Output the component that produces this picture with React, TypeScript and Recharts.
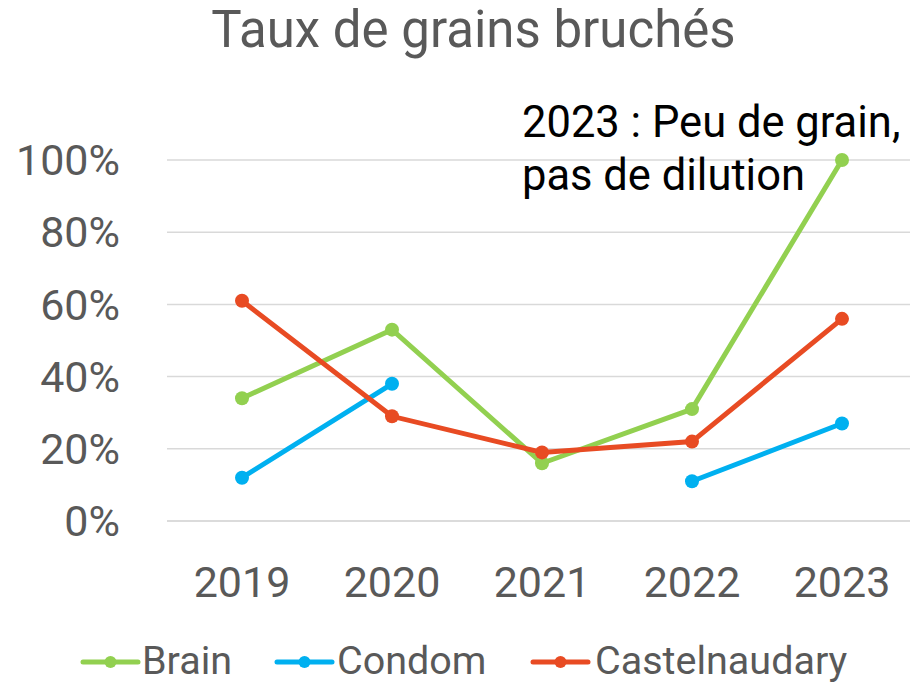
import React from 'react';
import { LineChart, Line, XAxis, YAxis, CartesianGrid, Customized } from 'recharts';

const years = ['2019', '2020', '2021', '2022', '2023'];
const brain = [0.34, 0.53, 0.16, 0.31, 1.0];
const condom: (number | null)[] = [0.12, 0.38, null, 0.11, 0.27];
const castelnaudary = [0.61, 0.29, 0.19, 0.22, 0.56];
const yTicks = [0, 0.2, 0.4, 0.6, 0.8, 1.0];

const title = 'Taux de grains bruchés';
const noteLines = ['2023 : Peu de grain,', 'pas de dilution'];

const seriesInfo = [
  { key: 'Brain', color: '#92D050' },
  { key: 'Condom', color: '#00B0F0' },
  { key: 'Castelnaudary', color: '#E84B23' },
];

const data = years.map((y, i) => ({
  year: y,
  Brain: brain[i],
  Condom: condom[i],
  Castelnaudary: castelnaudary[i],
}));

const FONT = 'Roboto, "Noto Sans", sans-serif';
const GRAY = '#595959';

const legendPos = [
  { icon: 83, text: 142 },
  { icon: 277, text: 337 },
  { icon: 533, text: 595 },
];

const Overlay = () => (
  <g>
    <text x={473.5} y={47} textAnchor="middle" fontFamily={FONT} fontSize={51} fill={GRAY}>
      {title}
    </text>
    {noteLines.map((t, i) => (
      <text key={t} x={522} y={137 + i * 53} fontFamily={FONT} fontSize={43.5} fill="#000000">
        {t}
      </text>
    ))}
    {seriesInfo.map((s, i) => (
      <g key={s.key}>
        <line x1={legendPos[i].icon} x2={legendPos[i].icon + 55} y1={662} y2={662} stroke={s.color} strokeWidth={5} strokeLinecap="round" />
        <circle cx={legendPos[i].icon + 27.5} cy={662} r={6} fill={s.color} />
        <text x={legendPos[i].text} y={674} fontFamily={FONT} fontSize={39.5} fill={GRAY}>
          {s.key}
        </text>
      </g>
    ))}
  </g>
);

export default function App() {
  return (
    <div style={{ position: 'absolute', left: 0, top: 0, width: 910, height: 683, overflow: 'hidden', background: '#fff' }}>
      <LineChart width={920} height={683} data={data} margin={{ top: 160, right: 3, left: 0, bottom: 0 }}>
        <CartesianGrid vertical={false} stroke="#D9D9D9" strokeWidth={1.5} />
        <XAxis
          dataKey="year"
          height={162}
          padding={{ left: 75, right: 75 }}
          axisLine={{ stroke: '#D9D9D9', strokeWidth: 1.5 }}
          tickLine={false}
          tickSize={0}
          tickMargin={45}
          tick={{ fontFamily: FONT, fontSize: 43, fill: GRAY }}
        />
        <YAxis
          width={167}
          domain={[0, 1]}
          ticks={yTicks}
          tickFormatter={(v: number) => `${Math.round(v * 100)}%`}
          axisLine={false}
          tickLine={false}
          tickSize={0}
          tickMargin={47}
          tick={{ fontFamily: FONT, fontSize: 43, fill: GRAY }}
        />
        {seriesInfo.map((s) => (
          <Line
            key={s.key}
            type="linear"
            dataKey={s.key}
            stroke={s.color}
            strokeWidth={5}
            dot={{ r: 7, fill: s.color, stroke: s.color, strokeWidth: 0 }}
            activeDot={false}
            connectNulls={false}
            isAnimationActive={false}
          />
        ))}
        <Customized component={Overlay} />
      </LineChart>
    </div>
  );
}
